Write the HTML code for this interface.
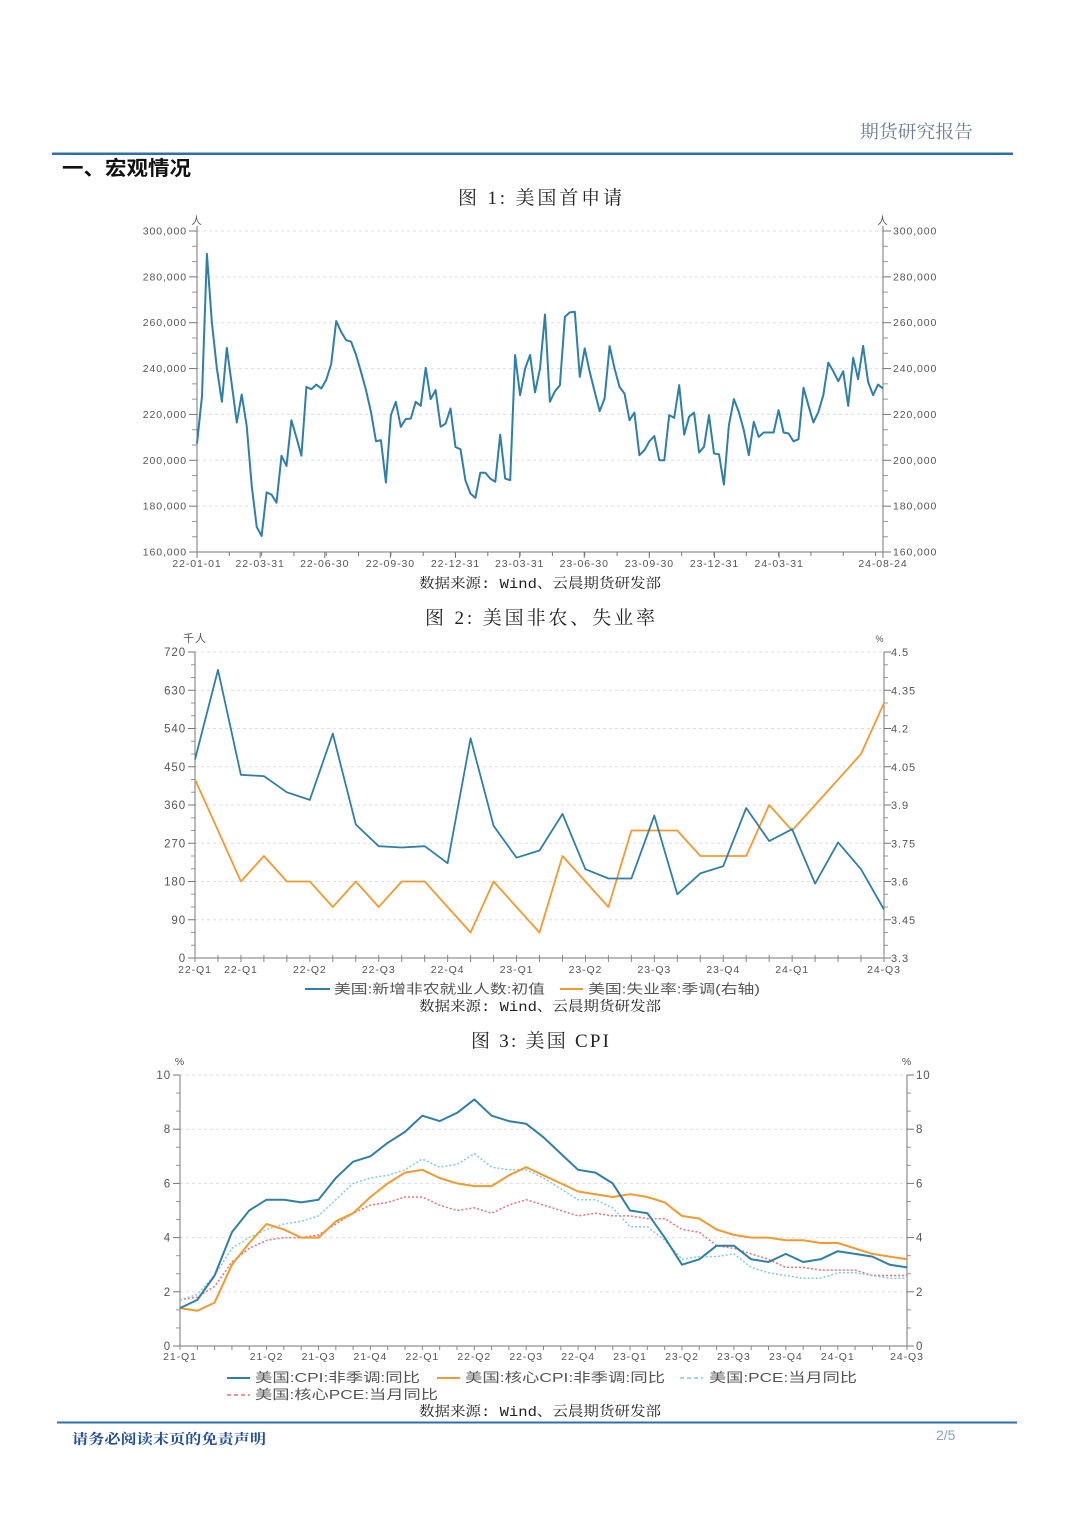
<!DOCTYPE html>
<html><head><meta charset="utf-8">
<style>
html,body{margin:0;padding:0;background:#fff;}
svg{display:block;}
.ax{font-family:"Liberation Sans","Noto Sans CJK SC",sans-serif;font-size:10.5px;fill:#555;letter-spacing:0.9px;}
.lg{font-family:"Liberation Sans","Noto Sans CJK SC",sans-serif;font-size:13px;fill:#555;}
.src{font-family:"Liberation Mono","Noto Serif CJK SC",monospace;font-size:14px;fill:#222;}
.ttl{font-family:"Liberation Serif","Noto Serif CJK SC",serif;font-size:19px;fill:#222;}
</style></head>
<body>
<svg id="page" width="1080" height="1526" viewBox="0 0 1080 1526" xmlns="http://www.w3.org/2000/svg">
<text x="860" y="138" textLength="113" lengthAdjust="spacingAndGlyphs" font-family="Liberation Serif,Noto Serif CJK SC,serif" font-size="18" fill="#6a7a9a">期货研究报告</text>
<rect x="52" y="152.5" width="961" height="2.5" fill="#2e6db4"/>
<text x="62" y="175" textLength="129" lengthAdjust="spacingAndGlyphs" font-family="Liberation Sans,Noto Sans CJK SC,sans-serif" font-size="20" font-weight="bold" fill="#111">一、宏观情况</text>
<text class="ttl" x="458" y="204" textLength="164" lengthAdjust="spacing">图 1:  美国首申请</text>
<g id="c1"></g>
<text class="src" x="419" y="588" textLength="242" lengthAdjust="spacingAndGlyphs">数据来源: Wind、云晨期货研发部</text>
<text class="ttl" x="425" y="624" textLength="230" lengthAdjust="spacing">图 2:  美国非农、失业率</text>
<g id="c2"></g>
<text class="src" x="419" y="1011" textLength="242" lengthAdjust="spacingAndGlyphs">数据来源: Wind、云晨期货研发部</text>
<text class="ttl" x="471" y="1047" textLength="138" lengthAdjust="spacing">图 3:  美国 CPI</text>
<g id="c3"></g>
<text class="src" x="419" y="1416" textLength="242" lengthAdjust="spacingAndGlyphs">数据来源: Wind、云晨期货研发部</text>
<rect x="57" y="1421.5" width="960" height="2" fill="#2e6db4"/>
<text x="72" y="1444" textLength="194" lengthAdjust="spacingAndGlyphs" font-family="Liberation Serif,Noto Serif CJK SC,serif" font-size="14" font-weight="bold" fill="#1f4e9a">请务必阅读末页的免责声明</text>
<text x="936" y="1440" font-family="Liberation Sans,sans-serif" font-size="14" fill="#8aa0c8">2/5</text>
</svg>
<script>
// ---------- Chart 1 data ----------
const claimsValues=[207.3,228,290,260,240,225.5,249,233,216.5,228.7,215,189,171,167,186,185,181.5,202,197.5,217.5,210,202,232,231,233,231.3,235,242,260.7,256,252.4,251.7,245.9,238.6,230.6,221,208.3,208.8,190.3,219.7,225.5,214.6,218,218.2,225.5,223.7,240.3,226.7,230.6,214.6,216,222.6,205.8,204.8,191.3,185.5,183.6,194.6,194.6,192,190.6,211.2,192,191.3,245.9,228.4,240,245.9,229.6,240,263.6,225.5,230.1,232.7,262.6,264.5,264.8,236.4,248.8,238.6,229.9,221.4,227,249.8,240,232,229.1,217.5,220.8,202.2,204.4,208.3,210.6,200,200,219.7,218.5,232.8,211.2,219,220.8,203.4,205.9,219.7,203,202.6,189.4,215.3,226.7,221.1,213.1,202.2,216.8,210.2,212.1,212.1,212.1,221.9,212.1,211.7,208.3,209.2,231.6,224,216.5,221.1,228.4,242.6,238.8,234.5,238.8,223.7,244.7,235.4,249.9,234.2,228.4,233,231.3];
const claimsTicks=[160,180,200,220,240,260,280,300];
const claimsDateLabels=["22-01-01","22-03-31","22-06-30","22-09-30","22-12-31","23-03-31","23-06-30","23-09-30","23-12-31","24-03-31","24-08-24"];
const claimsDateIdx=[0,12.7,25.7,38.9,52,64.9,77.9,91,104.1,117.1,138];
// ---------- Chart 2 data ----------
const nfpValues=[467,678,431,428,390,372,528,314,263,260,263,223,517,311,236,253,339,209,187,187,335,150,199,216,353,275,303,175,272,209,114];
const unempValues=[4.0,3.8,3.6,3.7,3.6,3.6,3.5,3.6,3.5,3.6,3.6,3.5,3.4,3.6,3.5,3.4,3.7,3.6,3.5,3.8,3.8,3.8,3.7,3.7,3.7,3.9,3.8,3.9,4.0,4.1,4.3];
const nfpTicks=[0,90,180,270,360,450,540,630,720];
const unempTicks=["3.3","3.45","3.6","3.75","3.9","4.05","4.2","4.35","4.5"];
const c2Labels=["22-Q1","22-Q1","22-Q2","22-Q3","22-Q4","23-Q1","23-Q2","23-Q3","23-Q4","24-Q1","24-Q3"];
const c2LabelIdx=[0,2,5,8,11,14,17,20,23,26,30];
// ---------- Chart 3 data ----------
const cpiValues=[1.4,1.7,2.6,4.2,5.0,5.4,5.4,5.3,5.4,6.2,6.8,7.0,7.5,7.9,8.5,8.3,8.6,9.1,8.5,8.3,8.2,7.7,7.1,6.5,6.4,6.0,5.0,4.9,4.0,3.0,3.2,3.7,3.7,3.2,3.1,3.4,3.1,3.2,3.5,3.4,3.3,3.0,2.9];
const coreCpiValues=[1.4,1.3,1.6,3.0,3.8,4.5,4.3,4.0,4.0,4.6,4.9,5.5,6.0,6.4,6.5,6.2,6.0,5.9,5.9,6.3,6.6,6.3,6.0,5.7,5.6,5.5,5.6,5.5,5.3,4.8,4.7,4.3,4.1,4.0,4.0,3.9,3.9,3.8,3.8,3.6,3.4,3.3,3.2];
const pceValues=[1.7,1.9,2.6,3.6,4.0,4.3,4.5,4.6,4.8,5.4,6.0,6.2,6.3,6.5,6.9,6.6,6.7,7.1,6.6,6.5,6.5,6.2,5.8,5.4,5.4,5.1,4.4,4.4,3.9,3.2,3.3,3.3,3.4,2.9,2.7,2.6,2.5,2.5,2.7,2.7,2.6,2.5,2.5];
const corePceValues=[1.7,1.8,2.2,3.1,3.6,3.9,4.0,4.0,4.1,4.5,4.9,5.2,5.3,5.5,5.5,5.2,5.0,5.1,4.9,5.2,5.4,5.2,5.0,4.8,4.9,4.8,4.8,4.7,4.7,4.3,4.2,3.7,3.6,3.4,3.2,2.9,2.9,2.8,2.8,2.8,2.6,2.6,2.6];
const cpiTicks=[0,2,4,6,8,10];
const c3Labels=["21-Q1","21-Q2","21-Q3","21-Q4","22-Q1","22-Q2","22-Q3","22-Q4","23-Q1","23-Q2","23-Q3","23-Q4","24-Q1","24-Q3"];
const c3LabelIdx=[0,5,8,11,14,17,20,23,26,29,32,35,38,42];

const NS="http://www.w3.org/2000/svg";
function mk(parent,tag,attrs,text){const e=document.createElementNS(NS,tag);for(const k in attrs)e.setAttribute(k,attrs[k]);if(text!==undefined)e.textContent=text;parent.appendChild(e);return e;}
function poly(vals,xf,yf){return vals.map((v,i)=>xf(i).toFixed(1)+","+yf(v).toFixed(1)).join(" ");}

// ===== Chart 1 =====
(function(){
const g=document.getElementById('c1');
const L=197,R=883,T=231,B=552;
const x=i=>L+(R-L)*i/(claimsValues.length-1);
const y=v=>B-(v-160)/(300-160)*(B-T);
claimsTicks.forEach((t,k)=>{
  if(t>160){const gl=mk(g,'line',{x1:L,x2:R,y1:y(t),y2:y(t),stroke:'#ddd','stroke-dasharray':'3,3'});
  
  }
  const tl=mk(g,'text',{x:L-10,y:y(t)+3.5,'text-anchor':'end',class:'ax'},t+",000");
  
  
  const tr=mk(g,'text',{x:R+10,y:y(t)+3.5,class:'ax'},t+",000");
  
  
  mk(g,'line',{x1:L-8,x2:L,y1:y(t),y2:y(t),stroke:'#777'});
  mk(g,'line',{x1:R,x2:R+8,y1:y(t),y2:y(t),stroke:'#777'});
  if(k<claimsTicks.length-1){for(const f of [1/3,2/3]){const v=t+20*f;mk(g,'line',{x1:L-5,x2:L,y1:y(v),y2:y(v),stroke:'#999'});mk(g,'line',{x1:R,x2:R+5,y1:y(v),y2:y(v),stroke:'#999'});}}
});
const a1=mk(g,'line',{x1:L,x2:L,y1:T-5,y2:B,stroke:'#777'});


const a2=mk(g,'line',{x1:R,x2:R,y1:T-5,y2:B,stroke:'#777'});


const a3=mk(g,'line',{x1:L,x2:R,y1:B,y2:B,stroke:'#777'});


const u1=mk(g,'text',{x:L,y:T-7,'text-anchor':'middle',class:'ax'},"人");


const u2=mk(g,'text',{x:R,y:T-7,'text-anchor':'middle',class:'ax'},"人");


for(let i=0;i<=138;i+=6.5){mk(g,'line',{x1:x(i),x2:x(i),y1:B,y2:B+4,stroke:'#777'});}
claimsDateLabels.forEach((s,k)=>{
  const xx=x(claimsDateIdx[k]);
  mk(g,'line',{x1:xx,x2:xx,y1:B,y2:B+6,stroke:'#777'});
  const t=mk(g,'text',{x:xx,y:B+15,'text-anchor':'middle',class:'ax'},s);
  
  
});
const ln=mk(g,'polyline',{points:poly(claimsValues,x,y),fill:'none',stroke:'#2f7fa8','stroke-width':2,'stroke-linejoin':'round'});


})();

// ===== Chart 2 =====
(function(){
const g=document.getElementById('c2');
const L=195,R=884,T=652,B=958;
const x=i=>L+(R-L)*i/(nfpValues.length-1);
const y=v=>B-v/720*(B-T);
const y2=v=>B-(v-3.3)/1.2*(B-T);
nfpTicks.forEach((t,k)=>{
  if(t>0){const gl=mk(g,'line',{x1:L,x2:R,y1:y(t),y2:y(t),stroke:'#ddd','stroke-dasharray':'3,3'});
  
  }
  const tl=mk(g,'text',{x:L-9,y:y(t)+4,'text-anchor':'end',class:'ax',style:'font-size:11.5px'},t);
  
  
  const tr=mk(g,'text',{x:R+7,y:y(t)+4,class:'ax',style:'font-size:11px'},unempTicks[k]);
  
  
  mk(g,'line',{x1:L-7,x2:L,y1:y(t),y2:y(t),stroke:'#777'});
  mk(g,'line',{x1:R,x2:R+7,y1:y(t),y2:y(t),stroke:'#777'});
  if(k<nfpTicks.length-1){for(const f of [1/3,2/3]){const v=t+90*f;mk(g,'line',{x1:L-4,x2:L,y1:y(v),y2:y(v),stroke:'#999'});mk(g,'line',{x1:R,x2:R+4,y1:y(v),y2:y(v),stroke:'#999'});}}
});
const a1=mk(g,'line',{x1:L,x2:L,y1:T,y2:B,stroke:'#777'});


const a2=mk(g,'line',{x1:R,x2:R,y1:T,y2:B,stroke:'#777'});


const a3=mk(g,'line',{x1:L,x2:R,y1:B,y2:B,stroke:'#777'});


const u1=mk(g,'text',{x:L,y:T-10,'text-anchor':'middle',class:'ax',style:'font-size:11px'},"千人");


const u2=mk(g,'text',{x:R-4,y:T-10,'text-anchor':'middle',class:'ax',style:'font-size:9px'},"%");


nfpValues.forEach((v,i)=>{mk(g,'line',{x1:x(i),x2:x(i),y1:B-3,y2:B+4,stroke:'#888'});});
c2Labels.forEach((s,k)=>{
  const t=mk(g,'text',{x:x(c2LabelIdx[k]),y:B+15,'text-anchor':'middle',class:'ax'},s);
  
  
});
const l2=mk(g,'polyline',{points:poly(unempValues,x,y2),fill:'none',stroke:'#f29a30','stroke-width':1.8,'stroke-linejoin':'round'});


const l1=mk(g,'polyline',{points:poly(nfpValues,x,y),fill:'none',stroke:'#2f7fa8','stroke-width':1.8,'stroke-linejoin':'round'});


const lg1=mk(g,'g',{});


mk(lg1,'line',{x1:305,x2:330,y1:989,y2:989,stroke:'#2f7fa8','stroke-width':2});
mk(lg1,'text',{x:334,y:993.5,class:'lg',textLength:211,lengthAdjust:'spacingAndGlyphs'},"美国:新增非农就业人数:初值");
const lg2=mk(g,'g',{});


mk(lg2,'line',{x1:560,x2:583,y1:989,y2:989,stroke:'#f29a30','stroke-width':2});
mk(lg2,'text',{x:588,y:993.5,class:'lg',textLength:172,lengthAdjust:'spacingAndGlyphs'},"美国:失业率:季调(右轴)");
})();

// ===== Chart 3 =====
(function(){
const g=document.getElementById('c3');
const L=180,R=907,T=1075,B=1346;
const x=i=>L+(R-L)*i/(cpiValues.length-1);
const y=v=>B-v/10*(B-T);
cpiTicks.forEach((t,k)=>{
  if(t>0){const gl=mk(g,'line',{x1:L,x2:R,y1:y(t),y2:y(t),stroke:'#ddd','stroke-dasharray':'3,3'});
  
  }
  const tl=mk(g,'text',{x:L-9,y:y(t)+4,'text-anchor':'end',class:'ax',style:'font-size:11.5px'},t);
  
  
  const tr=mk(g,'text',{x:R+9,y:y(t)+4,class:'ax',style:'font-size:11.5px'},t);
  
  
  mk(g,'line',{x1:L-7,x2:L,y1:y(t),y2:y(t),stroke:'#777'});
  mk(g,'line',{x1:R,x2:R+7,y1:y(t),y2:y(t),stroke:'#777'});
  if(k<cpiTicks.length-1){for(const f of [1/3,2/3]){const v=t+2*f;mk(g,'line',{x1:L-4,x2:L,y1:y(v),y2:y(v),stroke:'#999'});mk(g,'line',{x1:R,x2:R+4,y1:y(v),y2:y(v),stroke:'#999'});}}
});
const a1=mk(g,'line',{x1:L,x2:L,y1:T,y2:B,stroke:'#777'});


const a2=mk(g,'line',{x1:R,x2:R,y1:T,y2:B,stroke:'#777'});


const a3=mk(g,'line',{x1:L,x2:R,y1:B,y2:B,stroke:'#777'});


const u1=mk(g,'text',{x:L,y:T-10,'text-anchor':'middle',class:'ax'},"%");


const u2=mk(g,'text',{x:R,y:T-10,'text-anchor':'middle',class:'ax'},"%");


cpiValues.forEach((v,i)=>{mk(g,'line',{x1:x(i),x2:x(i),y1:B,y2:B+4,stroke:'#888'});});
c3Labels.forEach((s,k)=>{
  const t=mk(g,'text',{x:x(c3LabelIdx[k]),y:B+14,'text-anchor':'middle',class:'ax'},s);
  
  
});
const l4=mk(g,'polyline',{points:poly(corePceValues,x,y),fill:'none',stroke:'#e8737a','stroke-width':1.5,'stroke-dasharray':'2,2'});


const l3=mk(g,'polyline',{points:poly(pceValues,x,y),fill:'none',stroke:'#7fcfd6','stroke-width':1.5,'stroke-dasharray':'2,2'});


const l2=mk(g,'polyline',{points:poly(coreCpiValues,x,y),fill:'none',stroke:'#f29a30','stroke-width':2,'stroke-linejoin':'round'});


const l1=mk(g,'polyline',{points:poly(cpiValues,x,y),fill:'none',stroke:'#2f7fa8','stroke-width':2,'stroke-linejoin':'round'});


const e1=mk(g,'g',{});


mk(e1,'line',{x1:227,x2:250,y1:1378,y2:1378,stroke:'#2f7fa8','stroke-width':2});
mk(e1,'text',{x:255,y:1382,class:'lg',textLength:165,lengthAdjust:'spacingAndGlyphs'},"美国:CPI:非季调:同比");
const e2=mk(g,'g',{});


mk(e2,'line',{x1:437,x2:460,y1:1378,y2:1378,stroke:'#f29a30','stroke-width':2});
mk(e2,'text',{x:465,y:1382,class:'lg',textLength:200,lengthAdjust:'spacingAndGlyphs'},"美国:核心CPI:非季调:同比");
const e3=mk(g,'g',{});


mk(e3,'line',{x1:680,x2:703,y1:1378,y2:1378,stroke:'#7fcfd6','stroke-width':1.5,'stroke-dasharray':'4,3'});
mk(e3,'text',{x:709,y:1382,class:'lg',textLength:148,lengthAdjust:'spacingAndGlyphs'},"美国:PCE:当月同比");
const e4=mk(g,'g',{});


mk(e4,'line',{x1:227,x2:250,y1:1395,y2:1395,stroke:'#e8737a','stroke-width':1.5,'stroke-dasharray':'4,3'});
mk(e4,'text',{x:255,y:1399,class:'lg',textLength:183,lengthAdjust:'spacingAndGlyphs'},"美国:核心PCE:当月同比");
})();
</script>
</body></html>
